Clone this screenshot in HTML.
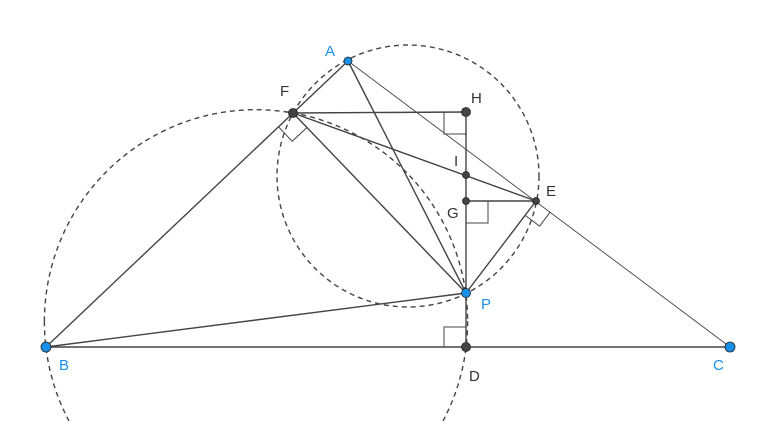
<!DOCTYPE html>
<html style="margin:0;width:768px;height:421px;overflow:hidden"><head><style>body{margin:0;background:#fff;width:768px;height:421px;overflow:hidden}svg{display:block}</style></head><body>
<svg width="768" height="421" viewBox="0 0 768 421" xmlns="http://www.w3.org/2000/svg" font-family="Liberation Sans, sans-serif" font-size="15" style="overflow:hidden">
<defs><clipPath id="cp"><rect x="0" y="0" width="768" height="421"/></clipPath></defs>
<g fill="none" stroke="#444" stroke-width="1.4" stroke-dasharray="5,4" clip-path="url(#cp)">
<path d="M44.4,321.3 A211.6,211.6 0 0 1 467.6,321.3"/>
<path d="M44.4,321.3 A211.6,211.6 0 0 0 69,421"/>
<path d="M467.6,321.3 A211.6,211.6 0 0 1 443,421"/>
<circle cx="408" cy="176" r="131"/>
</g>
<g stroke="#444" stroke-width="1.4" fill="none">
<line x1="46" y1="347" x2="348" y2="61"/>
<line x1="46" y1="347" x2="730" y2="347"/>
<line x1="46" y1="347" x2="466" y2="293"/>
<line x1="348" y1="61" x2="466" y2="293"/>
<line x1="293" y1="113" x2="466" y2="112"/>
<line x1="466" y1="112" x2="466" y2="347"/>
<line x1="293" y1="113" x2="536" y2="201"/>
<line x1="293" y1="113" x2="466" y2="293"/>
<line x1="466" y1="201" x2="536" y2="201"/>
<line x1="536" y1="201" x2="466" y2="293"/>
<line x1="348" y1="61" x2="730" y2="347" stroke-width="0.9"/>
<polyline points="444,112 444,134 466,134" stroke-width="1"/>
<polyline points="466,223 488,223 488,201" stroke-width="1"/>
<polyline points="444,347 444,327 466,327" stroke-width="1"/>
<polyline points="278.5,126.8 292.2,141.3 306.8,127.6" stroke-width="1"/>
<polyline points="550.4,211.8 539.6,226.2 525.2,215.4" stroke-width="1"/>
</g>
<g stroke="#222" stroke-width="0.8">
<circle cx="293" cy="113" r="4.5" fill="#444"/>
<circle cx="466" cy="112" r="4.5" fill="#444"/>
<circle cx="466" cy="175" r="3.5" fill="#444"/>
<circle cx="466" cy="201" r="3.5" fill="#444"/>
<circle cx="536" cy="201" r="3.5" fill="#444"/>
<circle cx="466" cy="347" r="4.5" fill="#444"/>
<circle cx="348" cy="61" r="4" fill="#1a8fe8"/>
<circle cx="466" cy="293" r="4.5" fill="#1a8fe8"/>
<circle cx="46" cy="347" r="5" fill="#1a8fe8"/>
<circle cx="730" cy="347" r="5" fill="#1a8fe8"/>
</g>
<g fill="#333">
<text x="280" y="96">F</text>
<text x="471" y="103">H</text>
<text x="454" y="166">I</text>
<text x="447" y="218">G</text>
<text x="546" y="196">E</text>
<text x="469" y="381">D</text>
</g>
<g fill="#1a8fe8">
<text x="325" y="56">A</text>
<text x="481" y="309">P</text>
<text x="59" y="370">B</text>
<text x="713" y="370">C</text>
</g>
</svg>
</body></html>
